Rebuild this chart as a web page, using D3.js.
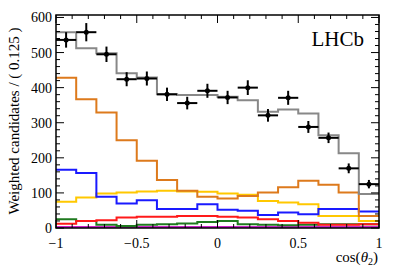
<!DOCTYPE html>
<html>
<head>
<meta charset="utf-8">
<script src="https://cdn.jsdelivr.net/npm/d3@7"></script>
<style>
  body { margin: 0; background: #fff; }
</style>
</head>
<body>
<figure id="chart" style="margin:0"></figure>
<script>
// bin edges: 16 bins of 0.125 from -1 to 1
const edges = d3.range(17).map(i => -1 + i * 0.125);

// data points and their errors
const dataValues = [536, 558, 495, 424, 426, 381, 356, 391, 372, 400, 321, 371, 288, 257, 170, 125];
const dataErrors = [22, 26, 22, 20, 20, 19, 18, 20, 19, 21, 18, 20, 17, 15, 14, 12];

// fit components
const totalFit  = [558, 512, 498, 441, 429, 381, 379, 379, 374, 364, 331, 338, 326, 264, 213, 97];
const orangeFit = [428, 367, 329, 250, 192, 137, 106, 89, 84, 91, 101, 116, 135, 123, 101, 34];
const blueFit   = [166, 157, 89, 70, 79, 54, 54, 68, 52, 49, 37, 44, 39, 54, 54, 47];
const yellowFit = [75, 87, 98, 101, 104, 106, 104, 103, 98, 95, 77, 73, 68, 34, 34, 20];
const redFit    = [12, 20, 22, 30, 32, 32, 34, 34, 32, 30, 25, 20, 15, 9, 9, 11];
const greenFit  = [25, 20, 9, 6, 9, 11, 13, 17, 20, 11, 9, 8, 9, 11, 11, 11];
const magentaFit = [3, 3, 3, 3, 3, 3, 3, 3, 3, 3, 3, 3, 3, 3, 3, 3];

const xTicks = [-1, -0.5, 0, 0.5, 1];
const yTicks = [0, 100, 200, 300, 400, 500, 600];

const W = 399, H = 272;
const FONT = "'Liberation Serif', 'Times New Roman', Times, serif";
const svg = d3.select("#chart").append("svg")
  .attr("width", W).attr("height", H)
  .attr("font-family", FONT);

const x = d3.scaleLinear().domain([-1, 1]).range([56, 379]);
const y = d3.scaleLinear().domain([0, 607]).range([228, 15]);

// step histogram
function hist(values, color, width) {
  const pts = values.map((v, i) => [edges[i], v]);
  pts.push([edges[16], values[values.length - 1]]);
  svg.append("path")
    .datum(pts)
    .attr("d", d3.line().x(d => x(d[0])).y(d => y(d[1])).curve(d3.curveStepAfter))
    .attr("fill", "none")
    .attr("stroke", color)
    .attr("stroke-width", width);
}

hist(magentaFit, "#cc22cc", 2);
hist(greenFit, "#1f7a1f", 2);
hist(redFit, "#ff1a1a", 2);
hist(yellowFit, "#ffc800", 2);
hist(blueFit, "#1a1aff", 2);
hist(orangeFit, "#dd7a1c", 2);
hist(totalFit, "#888888", 2);

// data points with error bars
const pts = svg.append("g");
dataValues.forEach((v, i) => {
  const cx = x((edges[i] + edges[i + 1]) / 2);
  pts.append("line")
    .attr("x1", x(edges[i])).attr("x2", x(edges[i + 1]))
    .attr("y1", y(v)).attr("y2", y(v))
    .attr("stroke", "#000").attr("stroke-width", 2);
  pts.append("line")
    .attr("x1", cx).attr("x2", cx)
    .attr("y1", y(v - dataErrors[i])).attr("y2", y(v + dataErrors[i]))
    .attr("stroke", "#000").attr("stroke-width", 2);
  pts.append("circle")
    .attr("cx", cx).attr("cy", y(v)).attr("r", 2.5).attr("fill", "#000");
});

// frame
svg.append("rect")
  .attr("x", x(-1)).attr("y", y(607))
  .attr("width", x(1) - x(-1)).attr("height", y(0) - y(607))
  .attr("fill", "none").attr("stroke", "#000").attr("stroke-width", 1.5);

// ticks on all sides
const tk = svg.append("g").attr("stroke", "#000").attr("stroke-width", 1);
d3.range(-1, 1.0001, 0.1).forEach(t => {
  const major = Math.abs(t * 2 - Math.round(t * 2)) < 1e-6;
  const len = major ? 8 : 4;
  tk.append("line").attr("x1", x(t)).attr("x2", x(t)).attr("y1", y(0)).attr("y2", y(0) - len);
  tk.append("line").attr("x1", x(t)).attr("x2", x(t)).attr("y1", y(607)).attr("y2", y(607) + len);
});
d3.range(0, 601, 20).forEach(t => {
  const major = t % 100 === 0;
  const len = major ? 8 : 4;
  tk.append("line").attr("x1", x(-1)).attr("x2", x(-1) + len).attr("y1", y(t)).attr("y2", y(t));
  tk.append("line").attr("x1", x(1)).attr("x2", x(1) - len).attr("y1", y(t)).attr("y2", y(t));
});

// tick labels
svg.append("g").selectAll("text").data(xTicks).join("text")
  .attr("x", d => x(d)).attr("y", 248)
  .attr("text-anchor", "middle").attr("font-size", 14)
  .attr("font-family", FONT)
  .text(d => d3.format("")(d).replace("-", "\u2212"));
svg.append("g").selectAll("text").data(yTicks).join("text")
  .attr("x", 52).attr("y", d => y(d) + 5)
  .attr("text-anchor", "end").attr("font-size", 14)
  .attr("font-family", FONT)
  .text(d => d);

// axis titles
svg.append("text")
  .attr("transform", "translate(19,121) rotate(-90)")
  .attr("text-anchor", "middle").attr("font-size", 15)
  .attr("font-family", FONT)
  .text("Weighted candidates / ( 0.125 )");
const xt = svg.append("text")
  .attr("x", 378).attr("y", 262)
  .attr("text-anchor", "end").attr("font-size", 15)
  .attr("font-family", FONT);
xt.append("tspan").text("cos(");
xt.append("tspan").attr("font-style", "italic").text("\u03b8");
xt.append("tspan").attr("font-size", 10).attr("dy", 3).text("2");
xt.append("tspan").attr("dy", -3).text(")");

svg.append("text")
  .attr("x", 364).attr("y", 46)
  .attr("text-anchor", "end").attr("font-size", 21)
  .attr("font-family", FONT)
  .text("LHCb");
</script>
</body>
</html>
